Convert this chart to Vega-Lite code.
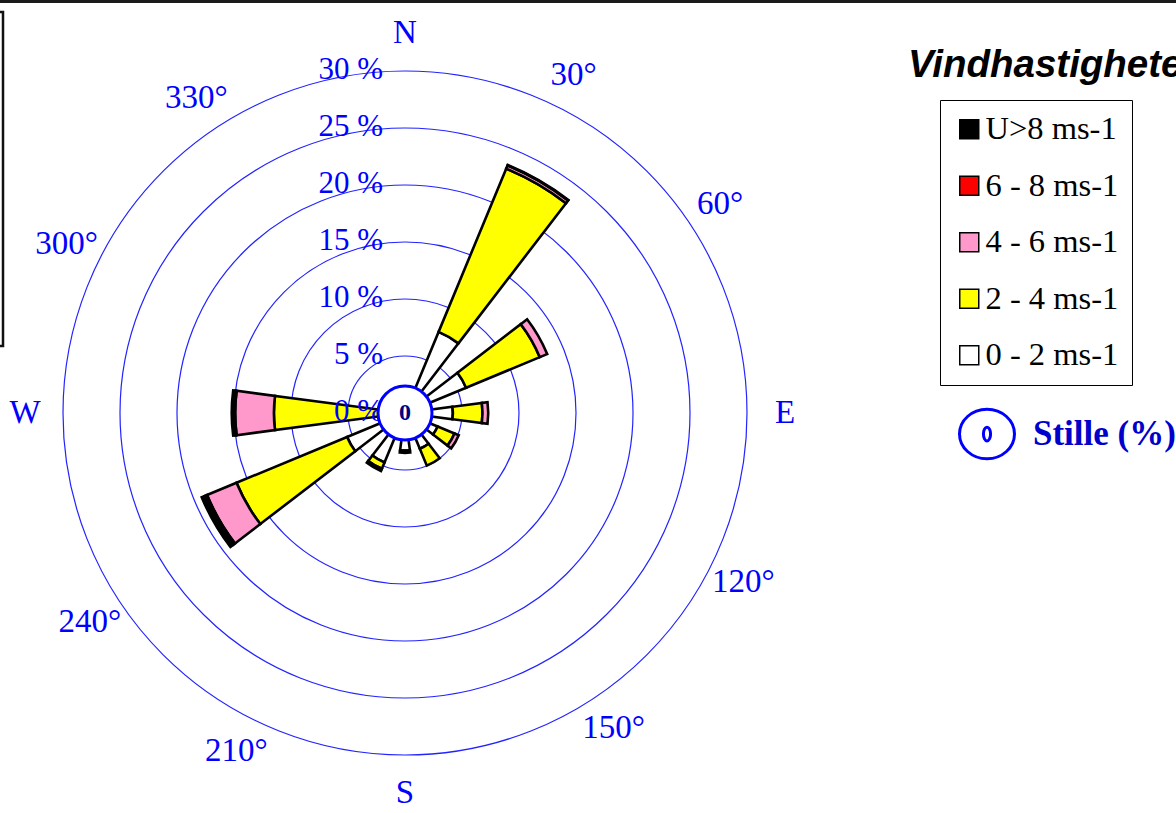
{
  "$schema": "https://vega.github.io/schema/vega-lite/v6.json",
  "width": 810,
  "height": 800,
  "autosize": {"type": "none"},
  "padding": {"left": 0, "top": 13, "right": 366, "bottom": 0},
  "background": "white",
  "config": {"view": {"stroke": null}, "font": "Liberation Serif"},
  "title": {
    "text": "Vindhastigheter",
    "font": "Liberation Sans",
    "fontSize": 38.5,
    "fontStyle": "italic",
    "fontWeight": "bold",
    "color": "black",
    "anchor": "start",
    "frame": "group",
    "orient": "top",
    "baseline": "alphabetic",
    "offset": 0,
    "dx": 908,
    "dy": 115
  },
  "datasets": {
    "winds": [
      {"dir": 0, "speed": "0 - 2 ms-1", "pct": 1.0},
      {"dir": 30, "speed": "0 - 2 ms-1", "pct": 7.7},
      {"dir": 30, "speed": "2 - 4 ms-1", "pct": 15.5},
      {"dir": 30, "speed": "4 - 6 ms-1", "pct": 0.3},
      {"dir": 30, "speed": "6 - 8 ms-1", "pct": 0.05},
      {"dir": 60, "speed": "0 - 2 ms-1", "pct": 5.8},
      {"dir": 60, "speed": "2 - 4 ms-1", "pct": 7.0},
      {"dir": 60, "speed": "4 - 6 ms-1", "pct": 0.7},
      {"dir": 90, "speed": "0 - 2 ms-1", "pct": 4.2},
      {"dir": 90, "speed": "2 - 4 ms-1", "pct": 2.6},
      {"dir": 90, "speed": "4 - 6 ms-1", "pct": 0.5},
      {"dir": 120, "speed": "0 - 2 ms-1", "pct": 3.1},
      {"dir": 120, "speed": "2 - 4 ms-1", "pct": 1.6},
      {"dir": 120, "speed": "4 - 6 ms-1", "pct": 0.4},
      {"dir": 150, "speed": "0 - 2 ms-1", "pct": 3.4},
      {"dir": 150, "speed": "2 - 4 ms-1", "pct": 1.6},
      {"dir": 180, "speed": "0 - 2 ms-1", "pct": 3.3},
      {"dir": 180, "speed": "2 - 4 ms-1", "pct": 0.2},
      {"dir": 210, "speed": "0 - 2 ms-1", "pct": 4.7},
      {"dir": 210, "speed": "2 - 4 ms-1", "pct": 0.6},
      {"dir": 210, "speed": "4 - 6 ms-1", "pct": 0.2},
      {"dir": 240, "speed": "0 - 2 ms-1", "pct": 5.5},
      {"dir": 240, "speed": "2 - 4 ms-1", "pct": 10.5},
      {"dir": 240, "speed": "4 - 6 ms-1", "pct": 2.8},
      {"dir": 240, "speed": "6 - 8 ms-1", "pct": 0.2},
      {"dir": 240, "speed": "U>8 ms-1", "pct": 0.3},
      {"dir": 270, "speed": "0 - 2 ms-1", "pct": 2.0},
      {"dir": 270, "speed": "2 - 4 ms-1", "pct": 9.5},
      {"dir": 270, "speed": "4 - 6 ms-1", "pct": 3.4},
      {"dir": 270, "speed": "6 - 8 ms-1", "pct": 0.1},
      {"dir": 270, "speed": "U>8 ms-1", "pct": 0.2},
      {"dir": 300, "speed": "0 - 2 ms-1", "pct": 1.0},
      {"dir": 330, "speed": "0 - 2 ms-1", "pct": 1.2}
    ],
    "rings": [
      {"ring": 0, "label": "0 %"},
      {"ring": 5, "label": "5 %"},
      {"ring": 10, "label": "10 %"},
      {"ring": 15, "label": "15 %"},
      {"ring": 20, "label": "20 %"},
      {"ring": 25, "label": "25 %"},
      {"ring": 30, "label": "30 %"}
    ],
    "cardinals": [
      {"deg": 0, "label": "N"},
      {"deg": 90, "label": "E"},
      {"deg": 180, "label": "S"},
      {"deg": 270, "label": "W"}
    ],
    "degrees": [
      {"deg": 30, "label": "30°"},
      {"deg": 60, "label": "60°"},
      {"deg": 120, "label": "120°"},
      {"deg": 150, "label": "150°"},
      {"deg": 210, "label": "210°"},
      {"deg": 240, "label": "240°"},
      {"deg": 300, "label": "300°"},
      {"deg": 330, "label": "330°"}
    ],
    "calm": [
      {"label": "Stille (%)", "calm": 0}
    ]
  },
  "resolve": {
    "scale": {"theta": "independent", "stroke": "independent"},
    "legend": {"stroke": "independent"}
  },
  "layer": [
    {
      "data": {"name": "rings"},
      "transform": [{"filter": "datum.ring > 0"}],
      "mark": {"type": "arc", "filled": false, "stroke": "#2323ff", "strokeWidth": 1.2, "theta": 0, "theta2": 6.2832},
      "encoding": {
        "radius": {"field": "ring", "type": "quantitative", "stack": null,
          "scale": {"type": "linear", "domain": [0, 30], "range": [0, 342], "zero": true}}
      }
    },
    {
      "data": {"name": "winds"},
      "transform": [
        {"stack": "pct", "groupby": ["dir"], "sort": [{"field": "speed", "order": "ascending"}], "as": ["r0", "r1"]}
      ],
      "mark": {"type": "arc", "stroke": "black", "strokeWidth": 2.6, "strokeJoin": "miter"},
      "encoding": {
        "theta": {"field": "dir", "type": "ordinal",
          "scale": {"type": "band", "domain": [0, 30, 60, 90, 120, 150, 180, 210, 240, 270, 300, 330],
            "range": [-0.2618, 6.0214], "paddingInner": 0.5, "paddingOuter": 0.25}},
        "radius": {"field": "r1", "type": "quantitative", "stack": null,
          "scale": {"type": "linear", "domain": [0, 30], "range": [0, 342], "zero": true}},
        "radius2": {"field": "r0"},
        "fill": {"field": "speed", "type": "nominal",
          "scale": {"domain": ["U>8 ms-1", "6 - 8 ms-1", "4 - 6 ms-1", "2 - 4 ms-1", "0 - 2 ms-1"],
            "range": ["#000000", "#ff0000", "#ff99cc", "#ffff00", "#ffffff"]},
          "legend": {"orient": "none", "legendX": 940, "legendY": 87, "title": null,
            "strokeColor": "black", "fillColor": "white", "padding": 13,
            "symbolType": "square", "symbolSize": 361, "symbolStrokeColor": "black", "symbolStrokeWidth": 1.5,
            "symbolOpacity": 1,
            "labelFont": "Liberation Serif", "labelFontSize": 32.5, "labelColor": "black",
            "rowPadding": 23.5, "labelOffset": 0, "labelLimit": 400}}
      }
    },
    {
      "data": {"name": "rings"},
      "mark": {"type": "text", "align": "right", "baseline": "middle", "fill": "#0000ff", "strokeWidth": 0, "fontSize": 31, "dx": -22, "dy": -1},
      "encoding": {
        "theta": {"datum": 0, "type": "quantitative", "scale": {"domain": [0, 360], "range": [0, 6.2832]}},
        "radius": {"field": "ring", "type": "quantitative", "stack": null,
          "scale": {"type": "linear", "domain": [0, 30], "range": [0, 342], "zero": true}},
        "text": {"field": "label"},
        "stroke": {"field": "ring", "type": "quantitative",
          "scale": {"range": ["#1a1a1a", "#1a1a1a"]},
          "legend": {"orient": "none", "legendX": 0, "legendY": -13, "title": null, "padding": 0,
            "direction": "horizontal", "gradientLength": 1176, "gradientThickness": 3,
            "gradientStrokeWidth": 0, "labelExpr": "''", "labelOpacity": 0, "labelFontSize": 1}}
      }
    },
    {
      "data": {"name": "calm"},
      "mark": {"type": "arc", "radius": 27, "theta": 0, "theta2": 6.2832, "fill": "white", "strokeWidth": 3},
      "encoding": {
        "stroke": {"field": "label", "type": "nominal", "scale": {"range": ["#0000ff"]},
          "legend": {"orient": "none", "legendX": 958, "legendY": 392, "title": null, "padding": 0,
            "symbolType": "M-1,0A1,0.9,0,1,1,1,0A1,0.9,0,1,1,-1,0ZM-0.13,0A0.13,0.25,0,1,1,0.13,0A0.13,0.25,0,1,1,-0.13,0Z",
            "symbolSize": 3025, "symbolStrokeWidth": 3, "symbolFillColor": "white",
            "labelFont": "Liberation Serif", "labelFontSize": 35, "labelFontWeight": "bold",
            "labelColor": "#0000cc", "labelOffset": 17, "labelLimit": 400}}
      }
    },
    {
      "data": {"name": "calm"},
      "mark": {"type": "text", "fontSize": 24, "fontWeight": "bold", "color": "#000080", "align": "center", "baseline": "middle"},
      "encoding": {"text": {"field": "calm"}}
    },
    {
      "data": {"name": "cardinals"},
      "mark": {"type": "text", "radius": 380, "align": "center", "baseline": "middle", "fill": "#0000ff", "strokeWidth": 0, "fontSize": 33},
      "encoding": {
        "theta": {"field": "deg", "type": "quantitative", "stack": null, "scale": {"domain": [0, 360], "range": [0, 6.2832]}},
        "text": {"field": "label"},
        "stroke": {"field": "deg", "type": "quantitative",
          "scale": {"range": ["#ffffff", "#ffffff"]},
          "legend": {"orient": "none", "legendX": -60, "legendY": -1, "title": null, "padding": 0,
            "direction": "vertical", "gradientLength": 334, "gradientThickness": 63,
            "gradientStrokeColor": "#111111", "gradientStrokeWidth": 2.5,
            "labelExpr": "''", "labelOpacity": 0, "labelFontSize": 1}}
      }
    },
    {
      "data": {"name": "degrees"},
      "mark": {"type": "text", "radius": 378, "align": "center", "baseline": "middle", "color": "#0000ff", "fontSize": 33},
      "encoding": {
        "theta": {"field": "deg", "type": "quantitative", "stack": null, "scale": {"domain": [0, 360], "range": [-0.0611, 6.2221]}},
        "text": {"field": "label"}
      }
    }
  ]
}
